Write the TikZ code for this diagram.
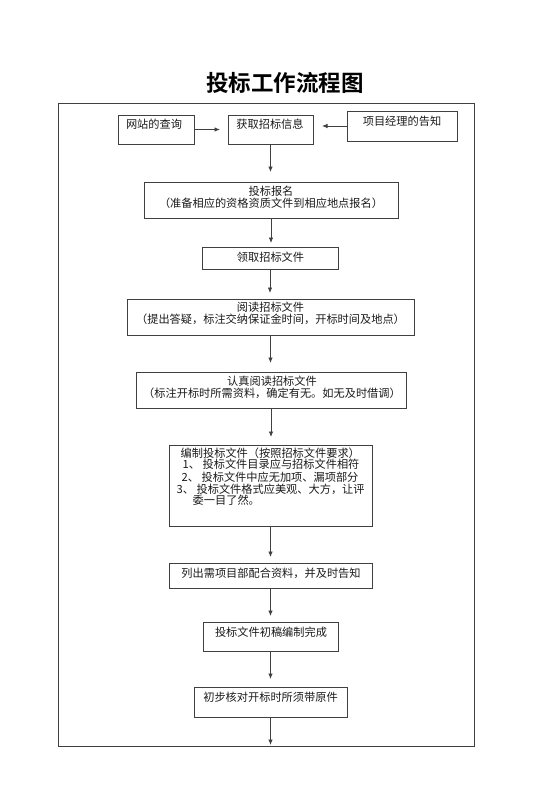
\documentclass[tikz,border=0pt]{standalone}
\usepackage{fontspec}
\setmainfont{Noto Sans CJK SC}[BoldFont={Noto Sans CJK SC Bold}]
\usetikzlibrary{arrows.meta}
\definecolor{linec}{HTML}{404040}
\definecolor{textc}{HTML}{1A1A1A}
\tikzset{
  box/.style={draw=linec, line width=0.8bp, inner sep=0pt, outer sep=0pt, anchor=north west},
  txt/.style={inner sep=0pt, text=textc, font=\fontsize{11.2bp}{12.2bp}\selectfont, align=center},
  ltxt/.style={inner sep=0pt, text=textc, font=\fontsize{11.2bp}{12.2bp}\selectfont, anchor=base west},
  arr/.style={draw=linec, line width=0.8bp, -{Latex[length=5.5bp,width=4.5bp]}},
}
\begin{document}
\begin{tikzpicture}[x=1bp,y=-1bp]
\useasboundingbox (0,0) rectangle (560,792);
% title
\node[inner sep=0pt, font=\fontsize{22.5bp}{24bp}\selectfont\bfseries] (title) at (285,83) {投标工作流程图};
% frame
\node[box, minimum width=416bp, minimum height=643bp] (frame) at (58,103) {};
% boxes
\node[box, minimum width=76bp,  minimum height=29bp] (web)   at (118,115) {};
\node[box, minimum width=85bp,  minimum height=29bp] (info)  at (228,115) {};
\node[box, minimum width=110bp, minimum height=30bp] (pm)    at (347,111) {};
\node[box, minimum width=254bp, minimum height=36bp] (reg)   at (144,182) {};
\node[box, minimum width=136bp, minimum height=22bp] (get)   at (202,247) {};
\node[box, minimum width=287bp, minimum height=36bp] (read)  at (127,299) {};
\node[box, minimum width=270bp, minimum height=36bp] (read2) at (136,372) {};
\node[box, minimum width=203bp, minimum height=81bp] (edit)  at (169,445) {};
\node[box, minimum width=203bp, minimum height=25bp] (list)  at (169,563) {};
\node[box, minimum width=135bp, minimum height=29bp] (draft) at (203,622) {};
\node[box, minimum width=153bp, minimum height=30bp] (check) at (194,687) {};
% texts
\node[txt] (tweb)   at (154,124) {网站的查询};
\node[txt] (tinfo)  at (270,124) {获取招标信息};
\node[txt] (tpm)    at (402,121) {项目经理的告知};
\node[txt] (treg)   at (271,197) {投标报名\\（准备相应的资格资质文件到相应地点报名）};
\node[txt] (tget)   at (270.5,257) {领取招标文件};
\node[txt] (tread)  at (270.5,313.5) {阅读招标文件\\（提出答疑，标注交纳保证金时间，开标时间及地点）};
\node[txt] (tread2) at (272,387) {认真阅读招标文件\\（标注开标时所需资料，确定有无。如无及时借调）};
\node[ltxt] (e1) at (180.5,457.3) {编制投标文件（按照招标文件要求）};
\node[ltxt] (e2) at (182.5,468.8) {1、 投标文件目录应与招标文件相符};
\node[ltxt] (e3) at (181.5,481.3) {2、 投标文件中应无加项、漏项部分};
\node[ltxt] (e4) at (176.5,493.3) {3、 投标文件格式应美观、大方，让评};
\node[ltxt] (e5) at (192.5,504.8) {委一目了然。};
\node[txt] (tlist)  at (271,573) {列出需项目部配合资料，并及时告知};
\node[txt] (tdraft) at (271,632) {投标文件初稿编制完成};
\node[txt] (tcheck) at (270.5,697) {初步核对开标时所须带原件};
% connectors
\draw[arr, shorten >=8bp] (web.east) -- (info.west |- web.east);
\draw[arr, shorten >=9bp] (pm.west) -- (pm.west -| info.east);
\draw[arr, shorten >=10bp] (info.south) -- (info.south |- reg.north);
\draw[arr, shorten >=4bp] (reg.south) -- (reg.south |- get.north);
\draw[arr, shorten >=6bp] (get.south) -- (get.south |- read.north);
\draw[arr, shorten >=9bp] (read.south) -- (read.south |- read2.north);
\draw[arr, shorten >=8bp] (read2.south) -- (read2.south |- edit.north);
\draw[arr, shorten >=6bp] (edit.south) -- (edit.south |- list.north);
\draw[arr, shorten >=6bp] (list.south) -- (list.south |- draft.north);
\draw[arr, shorten >=8bp] (draft.south) -- (draft.south |- check.north);
\draw[arr, shorten >=1bp] (check.south) -- (check.south |- frame.south);
\end{tikzpicture}
\end{document}
